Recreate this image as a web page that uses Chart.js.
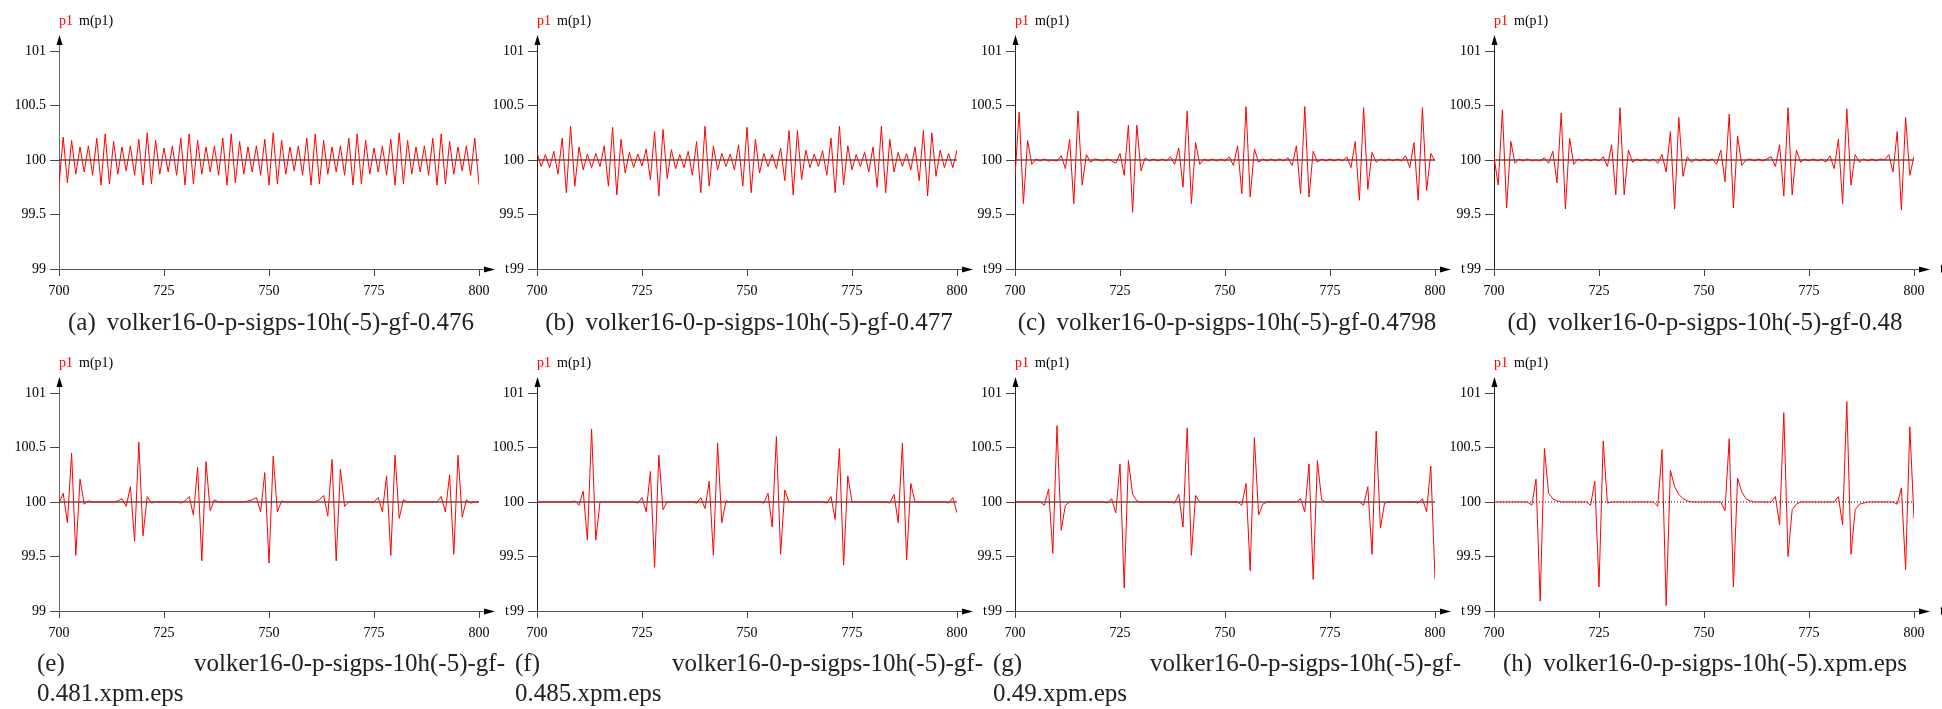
<!DOCTYPE html>
<html>
<head>
<meta charset="utf-8">
<title>volker16 p1 panels</title>
<script src="https://cdn.jsdelivr.net/npm/chart.js@4.4.0/dist/chart.umd.min.js"></script>
<style>
  html, body { margin: 0; padding: 0; background: #fff; }
  body { width: 1942px; height: 709px; position: relative; overflow: hidden; }
  canvas { position: absolute; }
  .cap {
    position: absolute;
    width: 468px;
    font-family: "Liberation Serif", serif;
    font-size: 25px;
    line-height: 29.5px;
    color: #222;
    white-space: nowrap;
  }
  .center { text-align: center; }
  .gap { margin-left: 11px; }
  .row { display: flex; justify-content: space-between; }
</style>
</head>
<body>

<canvas id="chart-a"></canvas>
<canvas id="chart-b"></canvas>
<canvas id="chart-c"></canvas>
<canvas id="chart-d"></canvas>
<canvas id="chart-e"></canvas>
<canvas id="chart-f"></canvas>
<canvas id="chart-g"></canvas>
<canvas id="chart-h"></canvas>

<div class="cap center" style="left:37px; top:307px"><span>(a)</span><span class="gap">volker16-0-p-sigps-10h(-5)-gf-0.476</span></div>
<div class="cap center" style="left:515px; top:307px"><span>(b)</span><span class="gap">volker16-0-p-sigps-10h(-5)-gf-0.477</span></div>
<div class="cap center" style="left:993px; top:307px"><span>(c)</span><span class="gap">volker16-0-p-sigps-10h(-5)-gf-0.4798</span></div>
<div class="cap center" style="left:1471px; top:307px"><span>(d)</span><span class="gap">volker16-0-p-sigps-10h(-5)-gf-0.48</span></div>

<div class="cap" style="left:37px; top:648px">
  <div class="row"><span>(e)</span><span>volker16-0-p-sigps-10h(-5)-gf-</span></div>
  <div>0.481.xpm.eps</div>
</div>
<div class="cap" style="left:515px; top:648px">
  <div class="row"><span>(f)</span><span>volker16-0-p-sigps-10h(-5)-gf-</span></div>
  <div>0.485.xpm.eps</div>
</div>
<div class="cap" style="left:993px; top:648px">
  <div class="row"><span>(g)</span><span>volker16-0-p-sigps-10h(-5)-gf-</span></div>
  <div>0.49.xpm.eps</div>
</div>
<div class="cap center" style="left:1471px; top:648px"><span>(h)</span><span class="gap">volker16-0-p-sigps-10h(-5).xpm.eps</span></div>

<script>

const tStart = 700;
const xTickValues = [700, 725, 750, 775, 800];
const yTickValues = [99, 99.5, 100, 100.5, 101];
const meanP1 = [100, 100]; // m(p1), de t=700 a t=800

const p1_gf0476 = [
  99.77, 100.21, 99.79, 100.18, 99.87, 100.12, 99.89, 100.13, 99.86, 100.2,
  99.77, 100.24, 99.78, 100.17, 99.87, 100.12, 99.9, 100.13, 99.86, 100.19,
  99.77, 100.25, 99.78, 100.18, 99.87, 100.11, 99.89, 100.13, 99.86, 100.2,
  99.77, 100.24, 99.78, 100.18, 99.87, 100.12, 99.89, 100.13, 99.86, 100.2,
  99.77, 100.24, 99.79, 100.17, 99.87, 100.12, 99.89, 100.13, 99.86, 100.19,
  99.77, 100.25, 99.78, 100.18, 99.87, 100.12, 99.9, 100.13, 99.86, 100.2,
  99.77, 100.24, 99.78, 100.18, 99.87, 100.12, 99.89, 100.13, 99.86, 100.2,
  99.77, 100.24, 99.78, 100.18, 99.87, 100.11, 99.89, 100.13, 99.86, 100.19,
  99.77, 100.25, 99.78, 100.18, 99.87, 100.12, 99.89, 100.13, 99.86, 100.2,
  99.77, 100.24, 99.78, 100.17, 99.87, 100.12, 99.9, 100.13, 99.86, 100.2,
  99.77
];

const p1_gf0477 = [
  100.07, 99.94, 100.05, 99.93, 100.08, 99.87, 100.2, 99.7, 100.31, 99.76,
  100.12, 99.91, 100.055, 99.93, 100.06, 99.94, 100.13, 99.76, 100.3, 99.68,
  100.19, 99.88, 100.07, 99.93, 100.055, 99.945, 100.1, 99.82, 100.26, 99.67,
  100.28, 99.83, 100.095, 99.92, 100.05, 99.93, 100.08, 99.86, 100.17, 99.7,
  100.31, 99.76, 100.13, 99.91, 100.06, 99.94, 100.055, 99.91, 100.14, 99.76,
  100.3, 99.7, 100.19, 99.88, 100.06, 99.94, 100.05, 99.92, 100.11, 99.81,
  100.27, 99.68, 100.27, 99.82, 100.09, 99.93, 100.055, 99.94, 100.085, 99.86,
  100.2, 99.7, 100.31, 99.77, 100.13, 99.91, 100.05, 99.94, 100.07, 99.89,
  100.12, 99.75, 100.31, 99.7, 100.19, 99.89, 100.07, 99.94, 100.06, 99.91,
  100.12, 99.81, 100.27, 99.67, 100.25, 99.85, 100.09, 99.93, 100.06, 99.93,
  100.09
];

const p1_gf04798 = [
  99.85, 100.44, 99.6, 100.18, 99.96, 100.01, 99.99, 100.01, 99.99, 100.0,
  99.99, 100.04, 99.92, 100.19, 99.6, 100.45, 99.77, 100.05, 99.98, 100.01,
  100.0, 99.99, 100.01, 99.99, 99.97, 100.06, 99.86, 100.32, 99.52, 100.32,
  99.9, 100.02, 99.99, 100.01, 99.99, 100.01, 99.99, 100.03, 99.96, 100.11,
  99.75, 100.45, 99.6, 100.16, 99.96, 100.01, 99.99, 100.01, 99.99, 100.01,
  99.99, 100.03, 99.95, 100.13, 99.69, 100.49, 99.66, 100.1, 99.98, 100.01,
  99.99, 100.01, 99.99, 100.01, 99.99, 100.02, 99.95, 100.13, 99.69, 100.49,
  99.66, 100.08, 99.98, 100.01, 99.99, 100.01, 99.99, 100.01, 99.99, 100.03,
  99.93, 100.17, 99.63, 100.48, 99.73, 100.07, 99.98, 100.01, 99.99, 100.01,
  99.99, 100.01, 99.99, 100.04, 99.93, 100.16, 99.63, 100.48, 99.72, 100.06,
  99.99
];

const p1_gf048 = [
  100.03, 99.77, 100.46, 99.56, 100.17, 99.97, 100.01, 99.99, 100.01, 99.99,
  100.0, 99.99, 100.02, 99.97, 100.08, 99.79, 100.43, 99.55, 100.2, 99.96,
  100.01, 99.99, 100.01, 99.99, 100.01, 99.99, 100.03, 99.94, 100.14, 99.68,
  100.48, 99.68, 100.09, 99.98, 100.01, 99.99, 100.01, 99.99, 100.01, 99.97,
  100.05, 99.89, 100.26, 99.55, 100.39, 99.85, 100.03, 99.98, 100.01, 99.99,
  100.01, 99.99, 100.01, 99.96, 100.09, 99.8, 100.42, 99.56, 100.22, 99.95,
  100.0, 100.01, 99.99, 100.01, 99.99, 100.01, 100.03, 99.94, 100.14, 99.67,
  100.48, 99.68, 100.09, 99.98, 100.01, 99.99, 100.01, 99.99, 100.01, 99.98,
  100.04, 99.92, 100.19, 99.6, 100.47, 99.77, 100.05, 99.98, 100.01, 99.99,
  100.01, 99.99, 100.01, 100.0, 100.05, 99.89, 100.26, 99.54, 100.39, 99.86,
  100.03
];

const p1_gf0481 = [
  99.99, 100.08, 99.81, 100.45, 99.51, 100.21, 99.98, 100.01, 100, 100,
  100, 100, 100, 100, 100.01, 100.03, 99.96, 100.14, 99.64, 100.55,
  99.69, 100.05, 99.99, 100, 100, 100, 100, 100, 100, 99.99,
  100.01, 100.05, 99.88, 100.32, 99.46, 100.37, 99.92, 100.02, 100, 100,
  100, 100, 100, 100, 100, 100.01, 100.02, 100.04, 99.91, 100.27,
  99.44, 100.42, 99.91, 100.01, 100, 100, 100, 100, 100, 100,
  100, 100, 100.02, 100.06, 99.87, 100.39, 99.46, 100.3, 99.96, 100,
  100, 100, 100, 100, 100, 100, 100.04, 99.91, 100.24, 99.51,
  100.43, 99.85, 100.02, 100, 100, 100, 100, 100, 100, 100,
  100, 100.05, 99.91, 100.25, 99.52, 100.43, 99.86, 100.02, 99.99, 100,
  100
];

const p1_gf0485 = [
  100, 100, 100, 100, 100, 100, 100, 100, 100, 100.01,
  99.97, 100.1, 99.65, 100.67, 99.65, 100, 100, 100, 100, 100,
  100, 100, 100, 100, 99.99, 100.04, 99.91, 100.28, 99.4, 100.43,
  99.93, 100, 100, 100, 100, 100, 100, 100, 99.99, 100.04,
  99.94, 100.19, 99.51, 100.54, 99.81, 100.01, 100, 100, 100, 100,
  100, 100, 100, 100, 99.99, 100.08, 99.77, 100.6, 99.52, 100.11,
  100, 100, 100, 100, 100, 100, 100, 100, 100, 99.99,
  100.05, 99.84, 100.49, 99.42, 100.24, 100, 100, 100, 100, 100,
  100, 100, 100, 100, 99.99, 100.07, 99.81, 100.54, 99.47, 100.17,
  100, 100, 100, 100, 100, 100, 100, 100, 99.99, 100.04,
  99.9
];

const p1_gf049 = [
  100, 100, 100, 100, 100, 100, 100, 99.97, 100.12, 99.53,
  100.7, 99.74, 99.97, 100, 100, 100, 100, 100, 100, 100,
  100, 100, 99.99, 100.03, 99.9, 100.35, 99.21, 100.38, 100.07, 100.01,
  100, 100, 100, 100, 100, 100, 100, 100, 99.99, 100.07,
  99.77, 100.68, 99.51, 100.06, 100, 100, 100, 100, 100, 100,
  100, 100, 100, 100, 99.97, 100.17, 99.37, 100.59, 99.88, 99.98,
  100, 100, 100, 100, 100, 100, 100, 100, 100.03, 99.91,
  100.35, 99.29, 100.38, 100.02, 100, 100, 100, 100, 100, 100,
  100, 100, 100, 99.97, 100.14, 99.52, 100.65, 99.76, 99.99, 100,
  100, 100, 100, 100, 100, 100, 99.99, 100.03, 99.91, 100.33,
  99.29
];

const p1_nogf = [
  100, 100, 100, 100, 100, 100, 100, 100, 100, 99.97,
  100.21, 99.09, 100.49, 100.08, 100.03, 100.01, 100, 100, 100, 100,
  100, 100, 100, 99.97, 100.19, 99.22, 100.56, 99.99, 100, 100,
  100, 100, 100, 100, 100, 100, 100, 100, 100, 99.96,
  100.48, 99.05, 100.29, 100.14, 100.07, 100.03, 100.01, 100, 100, 100,
  100, 100, 100, 100, 100, 99.92, 100.58, 99.22, 100.22, 100.09,
  100.03, 100.01, 100, 100, 100, 100, 100, 100.05, 99.79, 100.82,
  99.5, 99.93, 99.98, 100, 100, 100, 100, 100, 100, 100,
  100, 100, 100.05, 99.79, 100.92, 99.52, 99.93, 99.98, 99.99, 100,
  100, 100, 100, 100, 100, 100, 99.98, 100.13, 99.38, 100.69,
  99.85
];

// Mise en page des panneaux (pixels de la page)
const PANEL_LEFT = [59, 537, 1015, 1494];
const ROWS = [
  { top: 0, height: 340, chartTop: 51, chartBottom: 269 },
  { top: 340, height: 369, chartTop: 53, chartBottom: 271 },
];
const CANVAS_W = 510;
const Y_AXIS_W = 59;
const PLOT_W = 420;
const X_AXIS_H = 40;

const panels = [
  { id: "chart-a", data: p1_gf0476, col: 0, row: 0, yAxisColor: "#6a6a6a" },
  { id: "chart-b", data: p1_gf0477, col: 1, row: 0, yAxisColor: "#222" },
  { id: "chart-c", data: p1_gf04798, col: 2, row: 0, yAxisColor: "#222" },
  { id: "chart-d", data: p1_gf048, col: 3, row: 0, yAxisColor: "#222" },
  { id: "chart-e", data: p1_gf0481, col: 0, row: 1, yAxisColor: "#6a6a6a" },
  { id: "chart-f", data: p1_gf0485, col: 1, row: 1, yAxisColor: "#222" },
  { id: "chart-g", data: p1_gf049, col: 2, row: 1, yAxisColor: "#222" },
  { id: "chart-h", data: p1_nogf, col: 3, row: 1, yAxisColor: "#222", dottedMean: true },
];

Chart.defaults.font.family = '"Liberation Serif", "Times New Roman", serif';
Chart.defaults.font.size = 14;
Chart.defaults.color = "#000";

// Fleches des axes, nom des series en haut et "t" au bout de l'axe x
const axisDecor = {
  id: "axisDecor",
  afterDraw(chart, args, opts) {
    const ctx = chart.ctx;
    const { left, right, top, bottom } = chart.chartArea;
    const ax = Math.floor(left) + 0.5;
    const ay = Math.floor(bottom) + 0.5;
    ctx.save();
    ctx.lineWidth = 1;

    // axe y prolonge + fleche
    ctx.strokeStyle = opts.yAxisColor;
    ctx.beginPath();
    ctx.moveTo(ax, top);
    ctx.lineTo(ax, top - 8);
    ctx.stroke();
    ctx.fillStyle = "#000";
    ctx.beginPath();
    ctx.moveTo(ax, top - 16);
    ctx.lineTo(ax - 3, top - 6);
    ctx.lineTo(ax + 3, top - 6);
    ctx.closePath();
    ctx.fill();

    // axe x prolonge + fleche
    ctx.strokeStyle = "#555";
    ctx.beginPath();
    ctx.moveTo(right, ay);
    ctx.lineTo(right + 8, ay);
    ctx.stroke();
    ctx.beginPath();
    ctx.moveTo(right + 16, ay);
    ctx.lineTo(right + 5, ay - 3);
    ctx.lineTo(right + 5, ay + 3);
    ctx.closePath();
    ctx.fill();

    ctx.font = '14px "Liberation Serif"';
    ctx.textBaseline = "middle";
    ctx.textAlign = "left";
    ctx.fillStyle = "#ff0000";
    ctx.fillText("p1", left, top - 30);
    ctx.fillStyle = "#000";
    ctx.fillText("m(p1)", left + 20, top - 30);

    ctx.textAlign = "center";
    ctx.fillText("t", right + 28, ay);
    ctx.restore();
  },
};

function makePanel(p) {
  const row = ROWS[p.row];
  const canvas = document.getElementById(p.id);
  canvas.width = CANVAS_W;
  canvas.height = row.height;
  canvas.style.left = PANEL_LEFT[p.col] - Y_AXIS_W + "px";
  canvas.style.top = row.top + "px";

  const points = p.data.map((v, i) => ({ x: tStart + i, y: v }));
  const meanPoints = meanP1.map((v, i) => ({ x: i === 0 ? xTickValues[0] : xTickValues[xTickValues.length - 1], y: v }));

  return new Chart(canvas.getContext("2d"), {
    type: "line",
    data: {
      datasets: [
        {
          label: "p1",
          data: points,
          borderColor: "#ff0000",
          borderWidth: 1,
          pointRadius: 0,
          tension: 0,
          order: 0,
        },
        {
          label: "m(p1)",
          data: meanPoints,
          borderColor: "#000",
          borderWidth: 1,
          borderDash: p.dottedMean ? [1, 2] : [],
          pointRadius: 0,
          order: 1,
        },
      ],
    },
    options: {
      responsive: false,
      animation: false,
      devicePixelRatio: 1,
      events: [],
      layout: {
        padding: {
          left: 0,
          top: row.chartTop,
          right: CANVAS_W - Y_AXIS_W - PLOT_W,
          bottom: row.height - row.chartBottom - X_AXIS_H,
        },
      },
      plugins: {
        legend: { display: false },
        tooltip: { enabled: false },
        axisDecor: { yAxisColor: p.yAxisColor },
      },
      scales: {
        x: {
          type: "linear",
          min: 700,
          max: 800,
          afterBuildTicks: (s) => {
            s.ticks = xTickValues.map((v) => ({ value: v }));
          },
          afterFit: (s) => {
            s.height = X_AXIS_H;
          },
          ticks: {
            padding: 7,
            maxRotation: 0,
            callback: (v) => String(v),
          },
          grid: { drawOnChartArea: false, tickLength: 7, color: "#444" },
          border: { color: "#555", width: 1 },
        },
        y: {
          min: 99,
          max: 101,
          afterBuildTicks: (s) => {
            s.ticks = yTickValues.map((v) => ({ value: v }));
          },
          afterFit: (s) => {
            s.width = Y_AXIS_W;
          },
          ticks: {
            padding: 4,
            callback: (v) => String(v),
          },
          grid: { drawOnChartArea: false, tickLength: 9, color: "#444" },
          border: { color: p.yAxisColor, width: 1 },
        },
      },
    },
    plugins: [axisDecor],
  });
}

panels.forEach(makePanel);
</script>
</body>
</html>
